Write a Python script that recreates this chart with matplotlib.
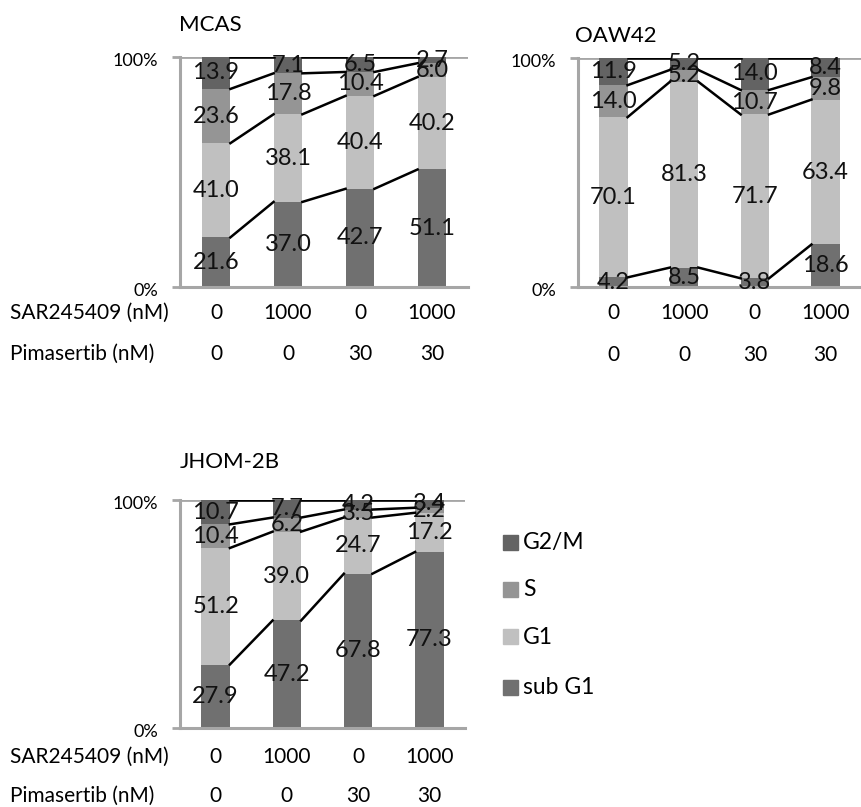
import numpy as np
import matplotlib.pyplot as plt

plt.rcParams['font.family'] = ['Lato', 'DejaVu Sans']

phases = ['sub G1', 'G1', 'S', 'G2/M']
colors = ['#707070', '#c0c0c0', '#959595', '#636363']
sar = ['0', '1000', '0', '1000']
pima = ['0', '0', '30', '30']

mcas = {
    'sub G1': [21.6, 37.0, 42.7, 51.1],
    'G1': [41.0, 38.1, 40.4, 40.2],
    'S': [23.6, 17.8, 10.4, 6.0],
    'G2/M': [13.9, 7.1, 6.5, 2.7],
}
oaw42 = {
    'sub G1': [4.2, 8.5, 3.8, 18.6],
    'G1': [70.1, 81.3, 71.7, 63.4],
    'S': [14.0, 5.2, 10.7, 9.8],
    'G2/M': [11.9, 5.2, 14.0, 8.4],
}
jhom = {
    'sub G1': [27.9, 47.2, 67.8, 77.3],
    'G1': [51.2, 39.0, 24.7, 17.2],
    'S': [10.4, 6.2, 3.5, 2.2],
    'G2/M': [10.7, 7.7, 4.2, 3.4],
}

W, H = 861, 807
fig = plt.figure(figsize=(W / 100, H / 100), dpi=100)


def px_axes(l, r, t, b):
    return fig.add_axes([l / W, 1 - b / H, (r - l) / W, (b - t) / H])


def fy(y):
    return 1 - y / H


def stacked(ax, data, title, title_xy, row_y, row_labels):
    vals = np.array([data[p] for p in phases])
    pct = vals / vals.sum(axis=0) * 100
    x = np.arange(4)
    bw = 0.4
    bottom = np.zeros(4)
    ax.axhline(100, color='#a6a6a6', lw=2, zorder=1)
    for i, p in enumerate(phases):
        ax.bar(x, pct[i], bw, bottom=bottom, color=colors[i], zorder=2)
        for j in range(4):
            ax.text(x[j], bottom[j] + pct[i][j] / 2, f'{vals[i][j]:.1f}',
                    ha='center', va='center', fontsize=17, color='#111111', zorder=4)
        bottom = bottom + pct[i]
        # series lines between neighbouring bars
        for j in range(3):
            ax.plot([x[j] + bw / 2, x[j + 1] - bw / 2], [bottom[j], bottom[j + 1]],
                    color='black', lw=1.8, zorder=3)
    ax.set_xlim(-0.5, 3.5)
    ax.set_ylim(0, 100)
    ax.set_yticks([0, 100])
    ax.set_yticklabels([])
    for yv, lab in [(0, '0%'), (100, '100%')]:
        ax.annotate(lab, (0, yv), xycoords=ax.get_yaxis_transform(),
                    xytext=(-16, -3), textcoords='offset points',
                    ha='right', va='center', fontsize=13)
    ax.tick_params(axis='y', length=6, width=2, color='#a6a6a6')
    ax.set_xticks([])
    for s in ['top', 'right']:
        ax.spines[s].set_visible(False)
    for s in ['left', 'bottom']:
        ax.spines[s].set_color('#a6a6a6')
        ax.spines[s].set_linewidth(2.2)
    fig.text(title_xy[0] / W, fy(title_xy[1]), title, fontsize=16,
             ha='left', va='center')
    for j in range(4):
        xf = fig.transFigure.inverted().transform(ax.transData.transform((x[j], 0)))[0]
        fig.text(xf, fy(row_y[0]), sar[j], fontsize=15, ha='center', va='center')
        fig.text(xf, fy(row_y[1]), pima[j], fontsize=15, ha='center', va='center')
    if row_labels:
        fig.text(10 / W, fy(row_y[0]), 'SAR245409 (nM)', fontsize=15, ha='left', va='center')
        fig.text(10 / W, fy(row_y[1]), 'Pimasertib (nM)', fontsize=15, ha='left', va='center')


ax1 = px_axes(180, 468, 57, 287)
stacked(ax1, mcas, 'MCAS', (179, 25), (313, 354), True)

ax2 = px_axes(578, 861, 58, 287)
stacked(ax2, oaw42, 'OAW42', (575, 36), (313, 355), False)

ax3 = px_axes(180, 465, 500, 728)
stacked(ax3, jhom, 'JHOM-2B', (180, 462), (757, 796), True)

# legend
leg_y = [543, 590, 637, 688]
for k, p in enumerate(['G2/M', 'S', 'G1', 'sub G1']):
    c = colors[phases.index(p)]
    fig.patches.append(plt.Rectangle((503 / W, fy(leg_y[k] + 7)), 15 / W, 15 / H,
                                     transform=fig.transFigure, color=c))
    fig.text(523 / W, fy(leg_y[k]), p, fontsize=16.5, ha='left', va='center')

fig.savefig('out.png', dpi=100)
